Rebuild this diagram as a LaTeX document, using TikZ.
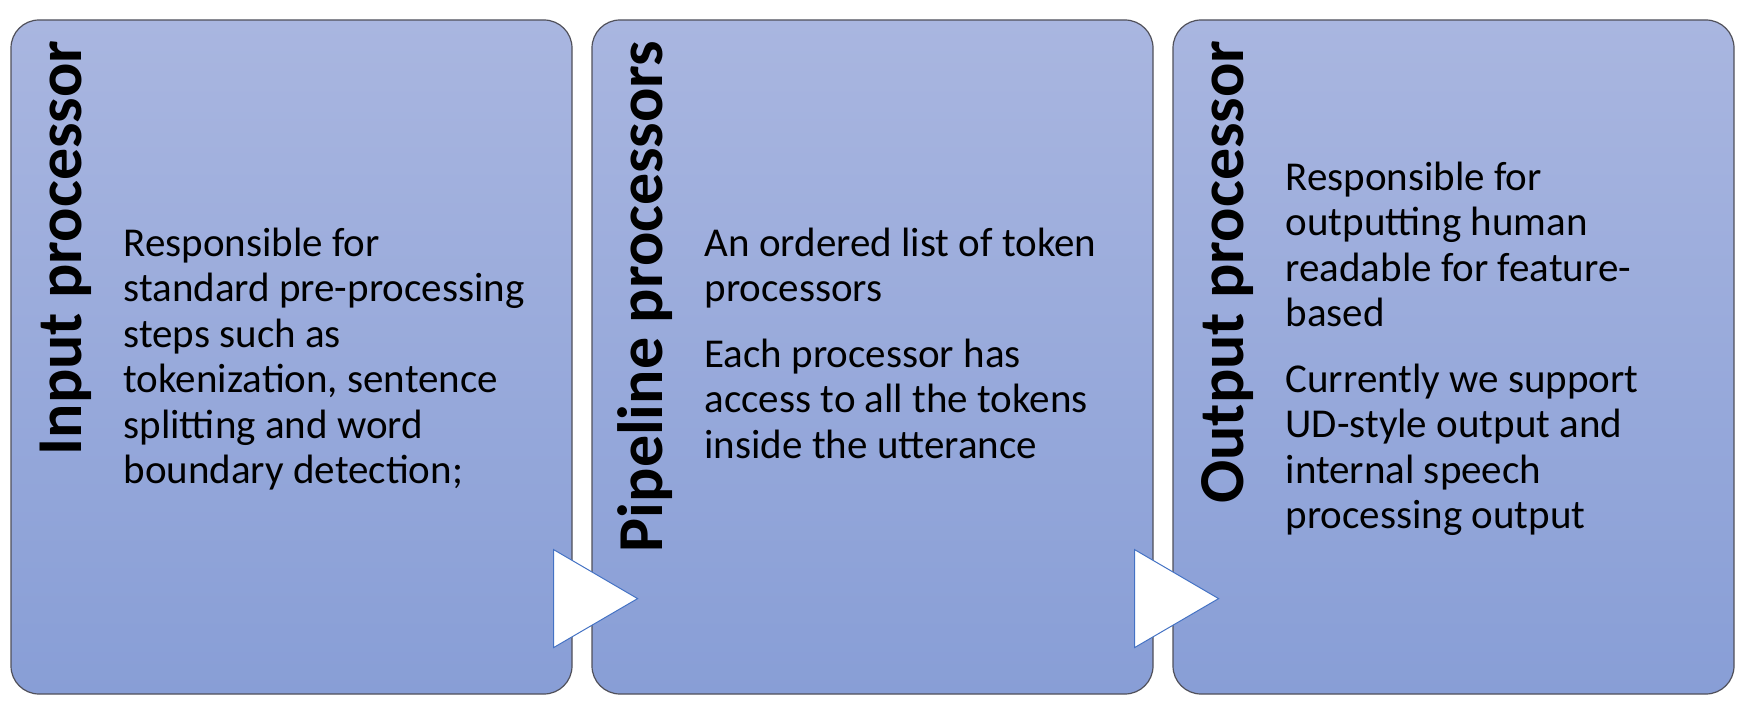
\documentclass[tikz,border=0pt]{standalone}
\usepackage{fontspec}
\setmainfont{Carlito}
\usetikzlibrary{calc}
\definecolor{boxtop}{RGB}{169,182,224}
\definecolor{boxbot}{RGB}{136,158,214}
\definecolor{boxline}{RGB}{80,80,90}
\definecolor{triline}{RGB}{68,114,196}
\begin{document}
\begin{tikzpicture}[x=1pt,y=-1pt,
  panel/.style={draw=boxline, line width=1.2pt, rounded corners=28pt,
    top color=boxtop, bottom color=boxbot,
    minimum width=561pt, minimum height=674pt, inner sep=0pt},
  title/.style={rotate=90, anchor=base east, inner sep=0pt,
    font=\fontsize{64}{70}\selectfont\bfseries},
  body/.style={anchor=base west, inner sep=0pt,
    font=\fontsize{41}{45.5}\selectfont},
  tri/.style={fill=white, draw=triline, line width=1pt, line join=miter}
]
\useasboundingbox (0,0) rectangle (1738,714);

\node[panel] (b1) at (291.5,357) {};
\node[panel] (b2) at (872.5,357) {};
\node[panel] (b3) at (1453.5,357) {};

\node[title] (t1) at ($(b1.north west)+(71,21)$) {Input processor};
\node[title] (t2) at ($(b2.north west)+(71,21)$) {Pipeline processors};
\node[title] (t3) at ($(b3.north west)+(71,21)$) {Output processor};

\node[body] (x1) at ($(b1.north west)+(113,237)$) {\parbox[t]{440pt}{\raggedright
Responsible for\\
standard pre-processing\\
steps such as\\
tokenization, sentence\\
splitting and word\\
boundary detection;}};

\node[body] (x2) at ($(b2.north west)+(113,237)$) {\parbox[t]{440pt}{\raggedright
An ordered list of token\\
processors\\[20pt]
Each processor has\\
access to all the tokens\\
inside the utterance}};

\node[body] (x3) at ($(b3.north west)+(113,171)$) {\parbox[t]{440pt}{\raggedright
Responsible for\\
outputting human\\
readable for feature-\\
based\\[20pt]
Currently we support\\
UD-style output and\\
internal speech\\
processing output}};

\coordinate (a1) at ($(b1.south east)+(-19,-96)$);
\coordinate (a2) at ($(b2.south east)+(-19,-96)$);
\draw[tri] ($(a1)+(0,-49)$) -- ($(a1)+(84,0)$) -- ($(a1)+(0,49)$) -- cycle;
\draw[tri] ($(a2)+(0,-49)$) -- ($(a2)+(84,0)$) -- ($(a2)+(0,49)$) -- cycle;
\end{tikzpicture}
\end{document}
